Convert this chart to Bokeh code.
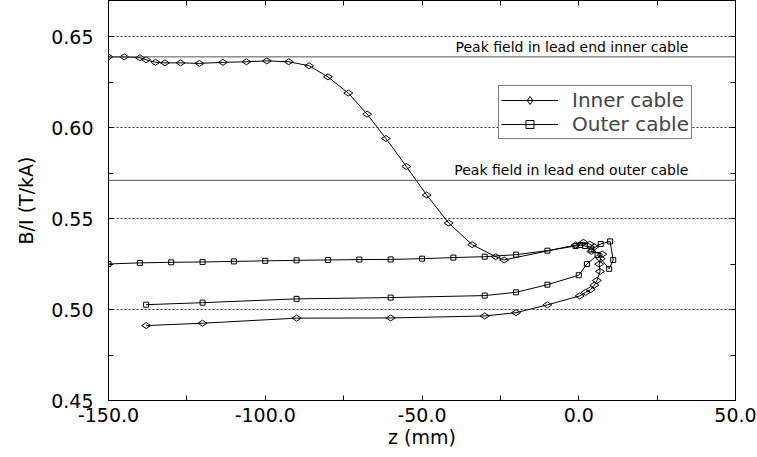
import math
from bokeh.plotting import figure
from bokeh.models import (Span, Label, Legend, LegendItem, LinearAxis,
                          NumeralTickFormatter, FixedTicker)
from bokeh.embed import file_html
from bokeh.resources import INLINE

# ---------------- data ----------------
inner_z = [-150, -145, -140, -138, -135, -132, -127, -121, -113.5, -106, -99.5, -92.5,
           -86, -80, -73.5, -67.5, -61.5, -55, -48.5, -41.5, -34, -26.5, -23.8,
           -1, 1.5, 3.5, 5, 4, 7.5, 7, 6.5, 6.8, 5.8, 5, 3.8, 2.2, 0.3,
           -10, -20, -30, -60, -90, -120, -138]
inner_b = [0.639, 0.639, 0.6385, 0.6374, 0.636, 0.6357, 0.6357, 0.6354, 0.636, 0.6363, 0.6368, 0.6363,
           0.6341, 0.628, 0.6191, 0.6075, 0.5941, 0.5787, 0.563, 0.5476, 0.5357, 0.5291, 0.5273,
           0.5355, 0.537, 0.536, 0.5345, 0.532, 0.5305, 0.528, 0.525, 0.521, 0.516, 0.5135, 0.511, 0.5095, 0.5075,
           0.5026, 0.4983, 0.4965, 0.4954, 0.4953, 0.4925, 0.4912]

outer_z = [-150, -140, -130, -120, -110, -100, -90, -80, -70, -60, -50, -40, -30, -20, -10,
           -1, 0.5, 2, 4, 7, 10, 11, 9.7, 6, 2.6, 0,
           -10, -20, -30, -60, -90, -120, -138]
outer_b = [0.5251, 0.5257, 0.526, 0.5262, 0.5265, 0.5268, 0.5271, 0.5273, 0.5275, 0.5276, 0.528, 0.5286, 0.5291, 0.5302, 0.5324,
           0.535, 0.5355, 0.535, 0.533, 0.5361, 0.5375, 0.5273, 0.5224, 0.5300, 0.5251, 0.5189,
           0.5137, 0.5095, 0.5077, 0.5066, 0.5059, 0.5038, 0.5027]

peak_inner = 0.639
peak_outer = 0.5711
peak_labels = ["Peak field in lead end inner cable", "Peak field in lead end outer cable"]
series_names = ["Inner cable", "Outer cable"]
x_ticks = [-150, -100, -50, 0, 50]
x_minor = [-125, -75, -25, 25]
y_ticks = [0.45, 0.50, 0.55, 0.60, 0.65]
y_minor = [0.475, 0.525, 0.575, 0.625]

FONT = "DejaVu Sans"

p = figure(width=757, height=457, x_range=(-150, 50), y_range=(0.45, 0.67),
           output_backend="svg", toolbar_location=None,
           min_border_left=108, min_border_right=22, min_border_top=0, min_border_bottom=57,
           x_axis_label="z (mm)", y_axis_label="B/I (T/kA)")
p.background_fill_color = "white"
p.border_fill_color = "white"
p.outline_line_color = "black"
p.outline_line_width = 1

# grid
p.xgrid.visible = False
p.ygrid.ticker = FixedTicker(ticks=y_ticks)
p.ygrid.grid_line_color = "#333333"
p.ygrid.grid_line_dash = "2 2"
p.ygrid.grid_line_width = 1

def style_axis(ax):
    ax.axis_line_color = "black"
    ax.axis_line_width = 1
    ax.major_tick_in = 5
    ax.major_tick_out = 0
    ax.minor_tick_in = 5
    ax.minor_tick_out = 0
    ax.major_tick_line_color = "black"
    ax.minor_tick_line_color = "black"
    ax.major_label_text_font = FONT
    ax.major_label_text_font_size = "19px"
    ax.major_label_text_color = "black"
    ax.axis_label_text_font = FONT
    ax.axis_label_text_font_size = "19px"
    ax.axis_label_text_font_style = "normal"
    ax.axis_label_text_color = "black"

p.xaxis.ticker = FixedTicker(ticks=x_ticks, minor_ticks=x_minor)
p.yaxis.ticker = FixedTicker(ticks=y_ticks, minor_ticks=y_minor)
p.xaxis.formatter = NumeralTickFormatter(format="0.0")
p.yaxis.formatter = NumeralTickFormatter(format="0.00")
style_axis(p.xaxis[0])
style_axis(p.yaxis[0])
p.xaxis.major_label_standoff = 7
p.xaxis.axis_label_standoff = 1
p.yaxis.major_label_standoff = 15
p.yaxis.axis_label_standoff = 11

# mirrored tick marks on top and right (tick marks only, no labels)
top_ax = LinearAxis(ticker=FixedTicker(ticks=[], minor_ticks=sorted(x_ticks + x_minor)))
right_ax = LinearAxis(ticker=FixedTicker(ticks=[], minor_ticks=sorted(y_ticks + y_minor)))
for ax in (top_ax, right_ax):
    style_axis(ax)
    ax.major_label_standoff = 0
p.add_layout(top_ax, "above")
p.add_layout(right_ax, "right")

# peak-field reference lines
for loc in (peak_inner, peak_outer):
    p.add_layout(Span(location=loc, dimension="width", line_color="#555555", line_width=1))
for loc, txt in zip((peak_inner, peak_outer), peak_labels):
    p.add_layout(Label(x=35, y=loc, text=txt, text_align="right", text_baseline="bottom",
                       y_offset=2, text_font=FONT, text_font_size="14px", text_color="black"))

# series
l1 = p.line(inner_z, inner_b, line_color="black", line_width=1)
m1 = p.scatter(inner_z, inner_b, marker="diamond", size=9, angle=math.pi / 2,
               line_color="black", line_width=1, fill_color=None)
l2 = p.line(outer_z, outer_b, line_color="black", line_width=1)
m2 = p.scatter(outer_z, outer_b, marker="square", size=5,
               line_color="black", line_width=1, fill_color=None)

legend = Legend(items=[LegendItem(label=series_names[0], renderers=[l1, m1]),
                       LegendItem(label=series_names[1], renderers=[l2, m2])],
                location=(390, 261), glyph_width=57, glyph_height=20,
                label_standoff=14, padding=2, spacing=0, margin=0,
                label_text_font=FONT, label_text_font_size="20px",
                border_line_color="black", border_line_width=1,
                background_fill_color="white", background_fill_alpha=1.0)
p.add_layout(legend, "center")

open("out.html", "w").write(file_html(p, INLINE))
